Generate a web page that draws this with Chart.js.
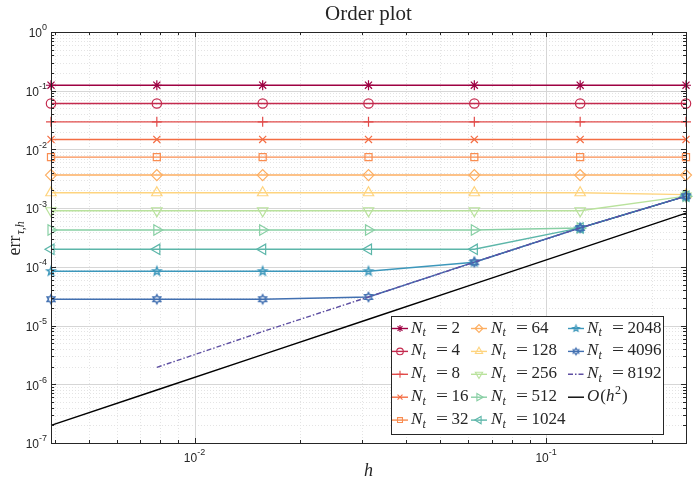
<!DOCTYPE html>
<html>
<head>
<meta charset="utf-8">
<script src="https://cdn.jsdelivr.net/npm/chart.js@4.4.1/dist/chart.umd.min.js"></script>
<style>
    html, body { margin: 0; padding: 0; background: #ffffff; }
    #wrap { width: 698px; height: 487px; }
</style>
</head>
<body>
<div id="wrap"><canvas id="orderChart" width="698" height="487"></canvas></div>
<script>
// Order plot: err vs h for several N_t, log-log

const hValues = [0.00390625, 0.0078125, 0.015625, 0.03125, 0.0625, 0.125, 0.25];
const ntValues = [2, 4, 8, 16, 32, 64, 128, 256, 512, 1024, 2048, 4096, 8192];

const errNt2    = [0.124, 0.124, 0.124, 0.124, 0.124, 0.124, 0.124];
const errNt4    = [0.0606, 0.0606, 0.0606, 0.0606, 0.0606, 0.0606, 0.0606];
const errNt8    = [0.0295, 0.0295, 0.0295, 0.0295, 0.0295, 0.0295, 0.0295];
const errNt16   = [0.0148, 0.0148, 0.0148, 0.0148, 0.0148, 0.0148, 0.0148];
const errNt32   = [0.0074, 0.0074, 0.0074, 0.0074, 0.0074, 0.0074, 0.0074];
const errNt64   = [0.00366, 0.00366, 0.00366, 0.00366, 0.00366, 0.00366, 0.00366];
const errNt128  = [0.00183, 0.00183, 0.00183, 0.00183, 0.00183, 0.00183, 0.0017];
const errNt256  = [0.000903, 0.000903, 0.000903, 0.000903, 0.000903, 0.000903, 0.0016];
const errNt512  = [0.000425, 0.000425, 0.000425, 0.000425, 0.000425, 0.00046, 0.0016];
const errNt1024 = [0.000199, 0.000199, 0.000199, 0.000199, 0.000199, 0.00046, 0.0016];
const errNt2048 = [8.4e-5, 8.4e-5, 8.4e-5, 8.4e-5, 0.00012, 0.00046, 0.0016];
const errNt4096 = [2.81e-5, 2.81e-5, 2.81e-5, 3.07e-5, 0.00012, 0.00046, 0.0016];
const errNt8192 = [null, 1.94e-6, 7.9e-6, 3.07e-5, 0.00012, 0.00046, 0.0016];
const orderRef  = [2.0e-7, 8.0e-7, 3.2e-6, 1.28e-5, 5.12e-5, 2.05e-4, 8.2e-4];

const xTickValues = [0.01, 0.1];
const yTickValues = [1e-7, 1e-6, 1e-5, 1e-4, 1e-3, 1e-2, 1e-1, 1];

const errSeries = [errNt2, errNt4, errNt8, errNt16, errNt32, errNt64, errNt128,
                   errNt256, errNt512, errNt1024, errNt2048, errNt4096, errNt8192];

const colors = ['#9e0142', '#c42a4e', '#e14b4a', '#f46d43', '#f98d51', '#fdae61', '#fed47f',
                '#b9e29c', '#88cfa4', '#5cb6a9', '#3c97bb', '#4270b1', '#5e4fa2'];

function starCanvas(points, outer, inner, color, lw) {
    const size = Math.ceil(outer * 2 + lw * 2 + 2);
    const c = document.createElement('canvas');
    c.width = size; c.height = size;
    const g = c.getContext('2d');
    g.strokeStyle = color;
    g.lineWidth = lw;
    g.beginPath();
    for (let k = 0; k < points * 2; k++) {
        const r = k % 2 ? inner : outer;
        const a = -Math.PI / 2 + k * Math.PI / points;
        const px = size / 2 + r * Math.cos(a), py = size / 2 + r * Math.sin(a);
        if (k === 0) g.moveTo(px, py); else g.lineTo(px, py);
    }
    g.closePath();
    g.stroke();
    return c;
}

const markers = [
    { style: 'star', rot: 0, r: 5 },
    { style: 'circle', rot: 0, r: 4.7 },
    { style: 'cross', rot: 0, r: 5 },
    { style: 'crossRot', rot: 0, r: 5 },
    { style: 'rect', rot: 0, r: 5 },
    { style: 'rectRot', rot: 0, r: 5.5 },
    { style: 'triangle', rot: 0, r: 6 },
    { style: 'triangle', rot: 180, r: 6 },
    { style: 'triangle', rot: 90, r: 6 },
    { style: 'triangle', rot: 270, r: 6 },
    { style: starCanvas(5, 4.4, 1.8, colors[10], 1.4), rot: 0, r: 5,
      small: starCanvas(5, 3.3, 1.4, colors[10], 1.2) },
    { style: starCanvas(6, 4.4, 2.5, colors[11], 1.5), rot: 0, r: 5,
      small: starCanvas(6, 3.3, 1.9, colors[11], 1.3) },
    { style: false, rot: 0, r: 0 }
];

const datasets = errSeries.map((vals, i) => ({
    label: 'N_t = ' + ntValues[i],
    data: hValues.map((h, j) => ({ x: h, y: vals[j] })),
    borderColor: colors[i],
    backgroundColor: 'rgba(0,0,0,0)',
    borderWidth: 1.4,
    borderDash: i === 12 ? [5, 2, 1.5, 2] : [],
    pointStyle: markers[i].style,
    pointRotation: markers[i].rot,
    pointRadius: markers[i].r,
    pointBorderWidth: 1.2,
    pointBackgroundColor: 'rgba(0,0,0,0)',
    pointBorderColor: colors[i],
    tension: 0,
    clip: false,
    order: -i
}));
datasets.push({
    label: 'O(h^2)',
    data: hValues.map((h, j) => ({ x: h, y: orderRef[j] })),
    borderColor: '#000000',
    borderWidth: 1.4,
    pointRadius: 0,
    tension: 0,
    clip: false,
    order: -13
});

const AXIS = '#262626';
const SANS = '"Liberation Sans", Arial, sans-serif';
const SERIF = '"Liberation Serif", "Times New Roman", serif';

function minorValues(min, max) {
    const out = [];
    for (let e = Math.floor(Math.log10(min)); e <= Math.ceil(Math.log10(max)); e++) {
        for (let k = 1; k <= 9; k++) {
            const v = k * Math.pow(10, e);
            if (v >= min * 0.999 && v <= max * 1.001) out.push({ v, major: k === 1 });
        }
    }
    return out;
}

function powerLabel(ctx, x, y, exp, align) {
    const base = '10', sup = String(exp);
    ctx.font = '12px ' + SANS;
    const wb = ctx.measureText(base).width;
    ctx.font = '9px ' + SANS;
    const ws = ctx.measureText(sup).width;
    let x0 = align === 'right' ? x - wb - ws : x - (wb + ws) / 2;
    ctx.textAlign = 'left';
    ctx.textBaseline = 'middle';
    ctx.font = '12px ' + SANS;
    ctx.fillText(base, x0, y);
    ctx.font = '9px ' + SANS;
    ctx.fillText(sup, x0 + wb, y - 6);
}

// N_t = n, spaced like the LaTeX original
function drawNt(ctx, x, y, n) {
    ctx.textAlign = 'left';
    ctx.textBaseline = 'alphabetic';
    ctx.fillStyle = AXIS;
    ctx.font = 'italic 17px ' + SERIF;
    ctx.fillText('N', x, y);
    ctx.font = 'italic 12px ' + SERIF;
    ctx.fillText('t', x + 11.5, y + 3.5);
    ctx.font = '17px ' + SERIF;
    ctx.save();
    ctx.translate(x + 25, 0);
    ctx.scale(1.25, 1);
    ctx.fillText('=', 0, y);
    ctx.restore();
    ctx.fillText(String(n), x + 40.5, y);
}

function drawOrder(ctx, x, y) {
    ctx.textAlign = 'left';
    ctx.textBaseline = 'alphabetic';
    ctx.fillStyle = AXIS;
    ctx.font = 'italic 17px ' + SERIF;
    ctx.fillText('O', x, y);
    x += ctx.measureText('O').width + 1;
    ctx.font = '17px ' + SERIF;
    ctx.fillText('(', x, y);
    x += ctx.measureText('(').width;
    ctx.font = 'italic 17px ' + SERIF;
    ctx.fillText('h', x, y);
    x += ctx.measureText('h').width + 0.5;
    ctx.font = '12px ' + SERIF;
    ctx.fillText('2', x, y - 7);
    x += ctx.measureText('2').width + 1;
    ctx.font = '17px ' + SERIF;
    ctx.fillText(')', x, y);
}

const decorPlugin = {
    id: 'decor',
    beforeDatasetsDraw(chart) {
        const { ctx, chartArea: a, scales } = chart;
        const xs = scales.x, ys = scales.y;
        ctx.save();
        ctx.fillStyle = '#ffffff';
        ctx.fillRect(a.left, a.top, a.right - a.left, a.bottom - a.top);
        ctx.lineWidth = 1;
        // minor dotted grid
        ctx.strokeStyle = '#e4e4e4';
        ctx.setLineDash([1, 2]);
        minorValues(xs.min, xs.max).filter(t => !t.major).forEach(t => {
            const px = Math.round(xs.getPixelForValue(t.v)) + 0.5;
            ctx.beginPath(); ctx.moveTo(px, a.top); ctx.lineTo(px, a.bottom); ctx.stroke();
        });
        minorValues(ys.min, ys.max).filter(t => !t.major).forEach(t => {
            const py = Math.round(ys.getPixelForValue(t.v)) + 0.5;
            ctx.beginPath(); ctx.moveTo(a.left, py); ctx.lineTo(a.right, py); ctx.stroke();
        });
        // major grid
        ctx.setLineDash([]);
        ctx.strokeStyle = '#d6d6d6';
        xTickValues.forEach(v => {
            const px = Math.round(xs.getPixelForValue(v)) + 0.5;
            ctx.beginPath(); ctx.moveTo(px, a.top); ctx.lineTo(px, a.bottom); ctx.stroke();
        });
        yTickValues.forEach(v => {
            const py = Math.round(ys.getPixelForValue(v)) + 0.5;
            ctx.beginPath(); ctx.moveTo(a.left, py); ctx.lineTo(a.right, py); ctx.stroke();
        });
        ctx.restore();
    },
    afterDatasetsDraw(chart) {
        const { ctx, chartArea: a, scales } = chart;
        const xs = scales.x, ys = scales.y;
        ctx.save();
        ctx.strokeStyle = AXIS;
        ctx.fillStyle = AXIS;
        ctx.lineWidth = 1;
        // tick marks, inside, on all four sides
        minorValues(xs.min, xs.max).forEach(t => {
            const px = Math.round(xs.getPixelForValue(t.v)) + 0.5;
            const len = t.major ? 5 : 3;
            ctx.beginPath();
            ctx.moveTo(px, a.bottom); ctx.lineTo(px, a.bottom - len);
            ctx.moveTo(px, a.top); ctx.lineTo(px, a.top + len);
            ctx.stroke();
        });
        minorValues(ys.min, ys.max).forEach(t => {
            const py = Math.round(ys.getPixelForValue(t.v)) + 0.5;
            const len = t.major ? 5 : 3;
            ctx.beginPath();
            ctx.moveTo(a.left, py); ctx.lineTo(a.left + len, py);
            ctx.moveTo(a.right, py); ctx.lineTo(a.right - len, py);
            ctx.stroke();
        });
        ctx.strokeRect(Math.round(a.left) + 0.5, Math.round(a.top) + 0.5,
                       Math.round(a.right - a.left), Math.round(a.bottom - a.top));

        // tick labels
        yTickValues.forEach(v => {
            powerLabel(ctx, a.left - 4, ys.getPixelForValue(v) + 2, Math.round(Math.log10(v)), 'right');
        });
        xTickValues.forEach(v => {
            powerLabel(ctx, xs.getPixelForValue(v), a.bottom + 16, Math.round(Math.log10(v)), 'center');
        });

        // title and axis labels
        const cx = (a.left + a.right) / 2;
        ctx.textAlign = 'center';
        ctx.textBaseline = 'alphabetic';
        ctx.font = '21px ' + SERIF;
        ctx.fillText('Order plot', cx, 20);
        ctx.font = 'italic 18px ' + SERIF;
        ctx.fillText('h', cx, 476);

        ctx.save();
        ctx.translate(20, (a.top + a.bottom) / 2 + 18);
        ctx.rotate(-Math.PI / 2);
        ctx.textAlign = 'left';
        ctx.font = '18px ' + SERIF;
        ctx.fillText('err', 0, 0);
        const we = ctx.measureText('err').width;
        ctx.font = 'italic 12px ' + SERIF;
        ctx.fillText('\u03c4,h', we + 1, 4);
        ctx.restore();

        // legend box
        const bx = 391, by = 316, bw = 272, bh = 118;
        ctx.fillStyle = '#ffffff';
        ctx.fillRect(bx, by, bw, bh);
        ctx.strokeStyle = AXIS;
        ctx.strokeRect(bx + 0.5, by + 0.5, bw, bh);
        const colX = [392, 471, 568];
        const textX = [411, 491, 587];
        const rowY0 = 328.5, rowStep = 22.9;
        const drawPoint = Chart.helpers && Chart.helpers.drawPoint;
        chart.data.datasets.forEach((ds, i) => {
            const col = Math.floor(i / 5), row = i % 5;
            const lx = colX[col], ly = rowY0 + row * rowStep;
            ctx.save();
            ctx.strokeStyle = ds.borderColor;
            ctx.lineWidth = ds.borderWidth;
            ctx.setLineDash(ds.borderDash || []);
            ctx.beginPath(); ctx.moveTo(lx, ly); ctx.lineTo(lx + 16, ly); ctx.stroke();
            ctx.setLineDash([]);
            if (i < 12 && drawPoint) {
                const m = markers[i];
                ctx.fillStyle = 'rgba(0,0,0,0)';
                ctx.lineWidth = 1.1;
                drawPoint(ctx, {
                    pointStyle: m.small || m.style,
                    rotation: m.rot,
                    radius: m.r * 0.7,
                    borderWidth: 1.1
                }, lx + 8, ly);
            }
            ctx.restore();
            if (i < 13) drawNt(ctx, textX[col], ly + 4, ntValues[i]);
            else drawOrder(ctx, textX[col], ly + 4);
        });
        ctx.restore();
    }
};

const ctx = document.getElementById('orderChart').getContext('2d');
new Chart(ctx, {
    type: 'line',
    data: { datasets },
    options: {
        responsive: false,
        animation: false,
        devicePixelRatio: 1,
        layout: { padding: { top: 32, right: 12, left: 0, bottom: 0 } },
        plugins: {
            legend: { display: false },
            title: { display: false },
            tooltip: { enabled: false }
        },
        scales: {
            x: {
                type: 'logarithmic',
                min: 0.00390625,
                max: 0.25,
                grid: { display: false },
                border: { display: false },
                ticks: { display: false },
                afterFit(s) { s.height = 44; }
            },
            y: {
                type: 'logarithmic',
                min: 1e-7,
                max: 1,
                grid: { display: false },
                border: { display: false },
                ticks: { display: false },
                afterFit(s) { s.width = 51; }
            }
        }
    },
    plugins: [decorPlugin]
});
</script>
</body>
</html>
